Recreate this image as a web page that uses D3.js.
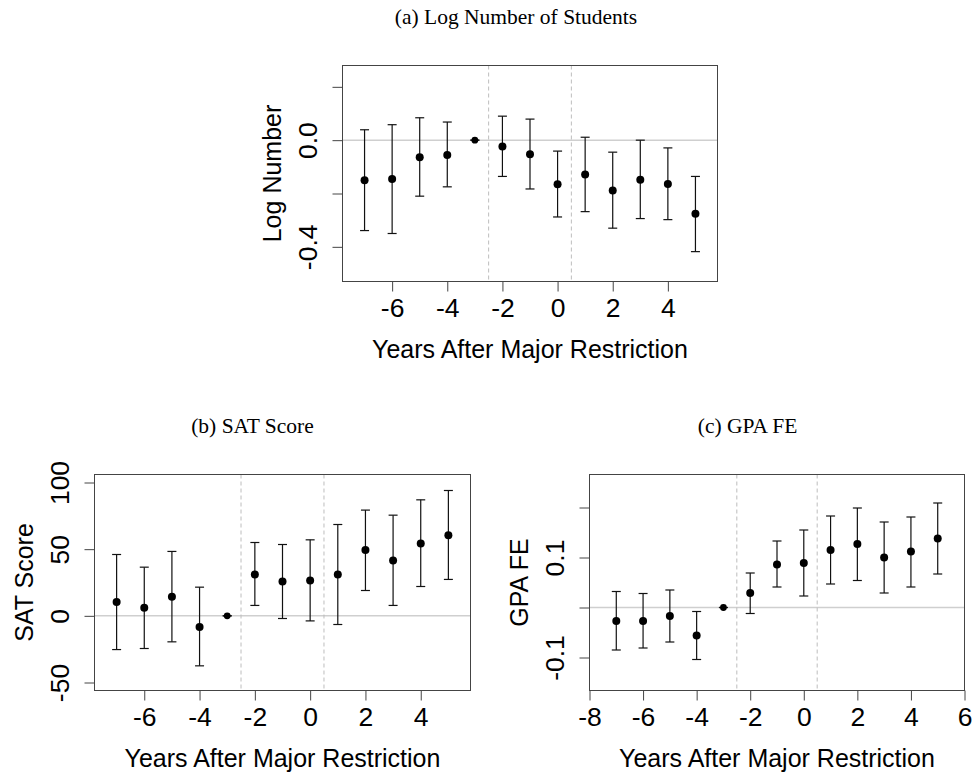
<!DOCTYPE html>
<html>
<head>
<meta charset="utf-8">
<script src="https://cdn.jsdelivr.net/npm/d3@7"></script>
<style>
  body { margin: 0; background: #fff; }
  svg text { fill: #000; }
  .tick line { stroke: #444; }
</style>
</head>
<body>
<div id="container"></div>
<script>
// event-study estimates
const years = [-7, -6, -5, -4, -3, -2, -1, 0, 1, 2, 3, 4, 5];
const cutoffs = [-2.5, 0.5];

const logEst = [-0.15, -0.146, -0.064, -0.056, 0, -0.024, -0.053, -0.165, -0.129, -0.189, -0.148, -0.164, -0.276];
const logLo  = [-0.339, -0.35, -0.21, -0.175, 0, -0.136, -0.183, -0.288, -0.268, -0.33, -0.294, -0.298, -0.418];
const logHi  = [0.039, 0.058, 0.084, 0.068, 0, 0.09, 0.079, -0.041, 0.011, -0.045, 0.0, -0.029, -0.136];

const satEst = [10.3, 6, 14.3, -8.3, 0, 31, 25.8, 26.5, 31, 49.3, 41.5, 54.3, 60.5];
const satLo  = [-25.3, -24.5, -19.5, -37.5, 0, 7.8, -2, -3.8, -6.5, 19, 7.8, 22, 27.3];
const satHi  = [46, 36.5, 48.3, 21.5, 0, 55, 53.5, 57, 68.5, 79.3, 75.5, 87, 94];

const gpaEst = [-0.027, -0.027, -0.017, -0.056, 0, 0.029, 0.086, 0.089, 0.115, 0.127, 0.1, 0.112, 0.138];
const gpaLo  = [-0.085, -0.081, -0.069, -0.104, 0, -0.012, 0.041, 0.023, 0.047, 0.054, 0.029, 0.041, 0.067];
const gpaHi  = [0.032, 0.028, 0.035, -0.008, 0, 0.069, 0.133, 0.155, 0.183, 0.199, 0.171, 0.181, 0.209];

// ticks (R drops labels that would overlap, so some are blank)
const xTicksAB = [-6, -4, -2, 0, 2, 4];
const xTicksC = [-8, -6, -4, -2, 0, 2, 4, 6];
const yTicksA = [-0.4, -0.2, 0, 0.2];
const yLabelsA = ["-0.4", "", "0.0", ""];
const yTicksB = [-50, 0, 50, 100];
const yLabelsB = ["-50", "0", "50", "100"];
const yTicksC = [-0.1, 0, 0.1, 0.2];
const yLabelsC = ["-0.1", "", "0.1", ""];

const W = 975, H = 776;
const sans = "'Liberation Sans', Arial, sans-serif";
const serif = "'Liberation Serif', 'Times New Roman', serif";

const svg = d3.select("#container")
  .append("svg")
  .attr("width", W)
  .attr("height", H);

function drawPanel(p) {
  const x = d3.scaleLinear().domain(p.xDomain).range([p.left, p.right]);
  const y = d3.scaleLinear().domain(p.yDomain).range([p.bottom, p.top]);
  const g = svg.append("g");

  //title
  g.append("text")
    .attr("x", p.titleX)
    .attr("y", p.top - 42)
    .attr("text-anchor", "middle")
    .style("font-family", serif)
    .style("font-size", "21.5px")
    .text(p.title);

  //zero line
  g.append("line")
    .attr("x1", p.left).attr("x2", p.right)
    .attr("y1", y(0)).attr("y2", y(0))
    .attr("stroke", "#cfcfcf")
    .attr("stroke-width", 1.5);

  //cutoff lines
  g.selectAll(".cut")
    .data(cutoffs)
    .enter()
    .append("line")
    .attr("x1", d => x(d)).attr("x2", d => x(d))
    .attr("y1", p.top).attr("y2", p.bottom)
    .attr("stroke", "#bdbdbd")
    .attr("stroke-dasharray", "4,3");

  //error bars
  const rows = years.map((yr, i) => ({yr, est: p.est[i], lo: p.lo[i], hi: p.hi[i]}));
  const cap = 4.5;
  const bars = g.selectAll(".bar")
    .data(rows)
    .enter()
    .append("g");
  bars.append("line")
    .attr("x1", d => x(d.yr)).attr("x2", d => x(d.yr))
    .attr("y1", d => y(d.lo)).attr("y2", d => y(d.hi));
  bars.append("line")
    .attr("x1", d => x(d.yr) - cap).attr("x2", d => x(d.yr) + cap)
    .attr("y1", d => y(d.lo)).attr("y2", d => y(d.lo));
  bars.append("line")
    .attr("x1", d => x(d.yr) - cap).attr("x2", d => x(d.yr) + cap)
    .attr("y1", d => y(d.hi)).attr("y2", d => y(d.hi));
  bars.selectAll("line")
    .attr("stroke", "#111")
    .attr("stroke-width", 1.2);

  g.selectAll(".dot")
    .data(rows)
    .enter()
    .append("circle")
    .attr("cx", d => x(d.yr))
    .attr("cy", d => y(d.est))
    .attr("r", d => d.lo === d.hi ? 3.4 : 4)
    .attr("fill", "#000");

  //box
  g.append("rect")
    .attr("x", p.left).attr("y", p.top)
    .attr("width", p.right - p.left)
    .attr("height", p.bottom - p.top)
    .attr("fill", "none")
    .attr("stroke", "#444");

  //x axis
  const xAxis = g.append("g")
    .attr("transform", `translate(0, ${p.bottom})`)
    .call(d3.axisBottom(x).tickValues(p.xTicks).tickSize(10).tickFormat(d => String(d)));
  xAxis.select(".domain").remove();
  xAxis.selectAll("text")
    .attr("y", 35)
    .attr("dy", 0)
    .style("font-family", sans)
    .style("font-size", "26.5px");

  //y axis
  const yAxis = g.append("g")
    .attr("transform", `translate(${p.left}, 0)`)
    .call(d3.axisLeft(y).tickValues(p.yTicks).tickSize(10).tickFormat((d, i) => p.yLabels[i]));
  yAxis.select(".domain").remove();
  yAxis.selectAll("text")
    .attr("x", null)
    .attr("dy", 0)
    .attr("text-anchor", "middle")
    .attr("transform", "translate(-26, 0) rotate(-90)")
    .style("font-family", sans)
    .style("font-size", "26.5px");

  //axis titles
  g.append("text")
    .attr("x", (p.left + p.right) / 2)
    .attr("y", p.bottom + 76)
    .attr("text-anchor", "middle")
    .style("font-family", sans)
    .style("font-size", "25px")
    .text("Years After Major Restriction");

  g.append("text")
    .attr("transform", `translate(${p.left - 62}, ${(p.top + p.bottom) / 2}) rotate(-90)`)
    .attr("text-anchor", "middle")
    .style("font-family", sans)
    .style("font-size", "25px")
    .text(p.yTitle);
}

drawPanel({
  title: "(a) Log Number of Students", titleX: 516, yTitle: "Log Number",
  left: 342.5, right: 717.5, top: 65.5, bottom: 281.5,
  xDomain: [-7.8, 5.8], yDomain: [-0.53, 0.28],
  xTicks: xTicksAB, yTicks: yTicksA, yLabels: yLabelsA,
  est: logEst, lo: logLo, hi: logHi
});

drawPanel({
  title: "(b) SAT Score", titleX: 252.5, yTitle: "SAT Score",
  left: 94.5, right: 470.5, top: 474.5, bottom: 690.5,
  xDomain: [-7.8, 5.8], yDomain: [-56, 106],
  xTicks: xTicksAB, yTicks: yTicksB, yLabels: yLabelsB,
  est: satEst, lo: satLo, hi: satHi
});

drawPanel({
  title: "(c) GPA FE", titleX: 747.5, yTitle: "GPA FE",
  left: 589.5, right: 964.5, top: 474.5, bottom: 690.5,
  xDomain: [-8, 6], yDomain: [-0.166, 0.266],
  xTicks: xTicksC, yTicks: yTicksC, yLabels: yLabelsC,
  est: gpaEst, lo: gpaLo, hi: gpaHi
});
</script>
</body>
</html>
